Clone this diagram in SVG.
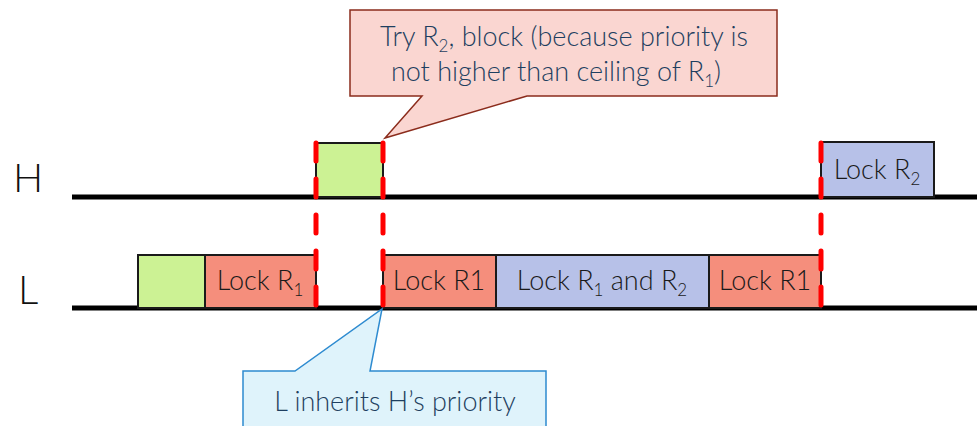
<svg xmlns="http://www.w3.org/2000/svg" width="977" height="426" viewBox="0 0 977 426">
  <style>
    text { font-family: "Lato", "Open Sans", "Liberation Sans", sans-serif; font-weight: 300; }
    .lbl { font-size: 40px; fill: #111; }
    .box { stroke: #1a1a1a; stroke-width: 2; }
    .green { fill: #ccf294; }
    .red { fill: #f58e7c; }
    .blue { fill: #b7c1e8; }
    .btxt { font-size: 27px; fill: #1a1a1a; text-anchor: middle; }
    .sub { font-size: 17px; }
    .axis { stroke: #000; stroke-width: 5; }
    .cut { stroke: #ff0000; stroke-width: 5; stroke-linecap: round; stroke-dasharray: 18 18; fill: none; }
    .note { font-size: 27px; text-anchor: middle; fill: #1e3f60; }
  </style>

  <!-- timelines -->
  <g id="timelines">
    <line class="axis" x1="72" y1="197" x2="977" y2="197"/>
    <line class="axis" x1="72" y1="308" x2="977" y2="308"/>
    <text class="lbl" x="13" y="192">H</text>
    <text class="lbl" x="18" y="304">L</text>
  </g>

  <!-- task H -->
  <g id="h-run">
    <rect class="box green" x="316" y="143" width="67" height="54"/>
  </g>
  <g id="h-lock-r2">
    <rect class="box blue" x="821" y="142" width="113" height="55"/>
    <text class="btxt" x="877" y="179">Lock R<tspan class="sub" dy="6">2</tspan></text>
  </g>

  <!-- task L -->
  <g id="l-run">
    <rect class="box green" x="138" y="255" width="67" height="53"/>
  </g>
  <g id="l-lock-r1-a">
    <rect class="box red" x="205" y="255" width="111" height="53"/>
    <text class="btxt" x="260" y="290">Lock R<tspan class="sub" dy="6">1</tspan></text>
  </g>
  <g id="l-lock-r1-b">
    <rect class="box red" x="383" y="255" width="113" height="53"/>
    <text class="btxt" x="439" y="290">Lock R1</text>
  </g>
  <g id="l-lock-r1-r2">
    <rect class="box blue" x="496" y="255" width="213" height="53"/>
    <text class="btxt" x="602" y="290">Lock R<tspan class="sub" dy="6">1</tspan><tspan dy="-6"> and R</tspan><tspan class="sub" dy="6">2</tspan></text>
  </g>
  <g id="l-lock-r1-c">
    <rect class="box red" x="709" y="255" width="112" height="53"/>
    <text class="btxt" x="765" y="290">Lock R1</text>
  </g>

  <!-- context switch markers -->
  <g id="connectors">
    <line class="cut" x1="316" y1="143" x2="316" y2="308"/>
    <line class="cut" x1="383" y1="143" x2="383" y2="308"/>
    <line class="cut" x1="821" y1="143" x2="821" y2="308"/>
  </g>

  <!-- callouts -->
  <g id="note-block">
    <path d="M350 10 H777 V96 H527 L385 138 L422 96 H350 Z" fill="#fad6d1" stroke="#8b2c1c" stroke-width="1.5"/>
    <text class="note" x="564" y="46">Try R<tspan class="sub" dy="6">2</tspan><tspan dy="-6">, block (because priority is</tspan></text>
    <text class="note" x="556" y="81">not higher than ceiling of R<tspan class="sub" dy="6">1</tspan><tspan dy="-6">)</tspan></text>
  </g>
  <g id="note-inherit">
    <path d="M243 430 V371 H295 L382 309 L370 371 H546 V430" fill="#dff3fb" stroke="#2e8bd0" stroke-width="1.5"/>
    <text class="note" x="395" y="411">L inherits H’s priority</text>
  </g>
</svg>
